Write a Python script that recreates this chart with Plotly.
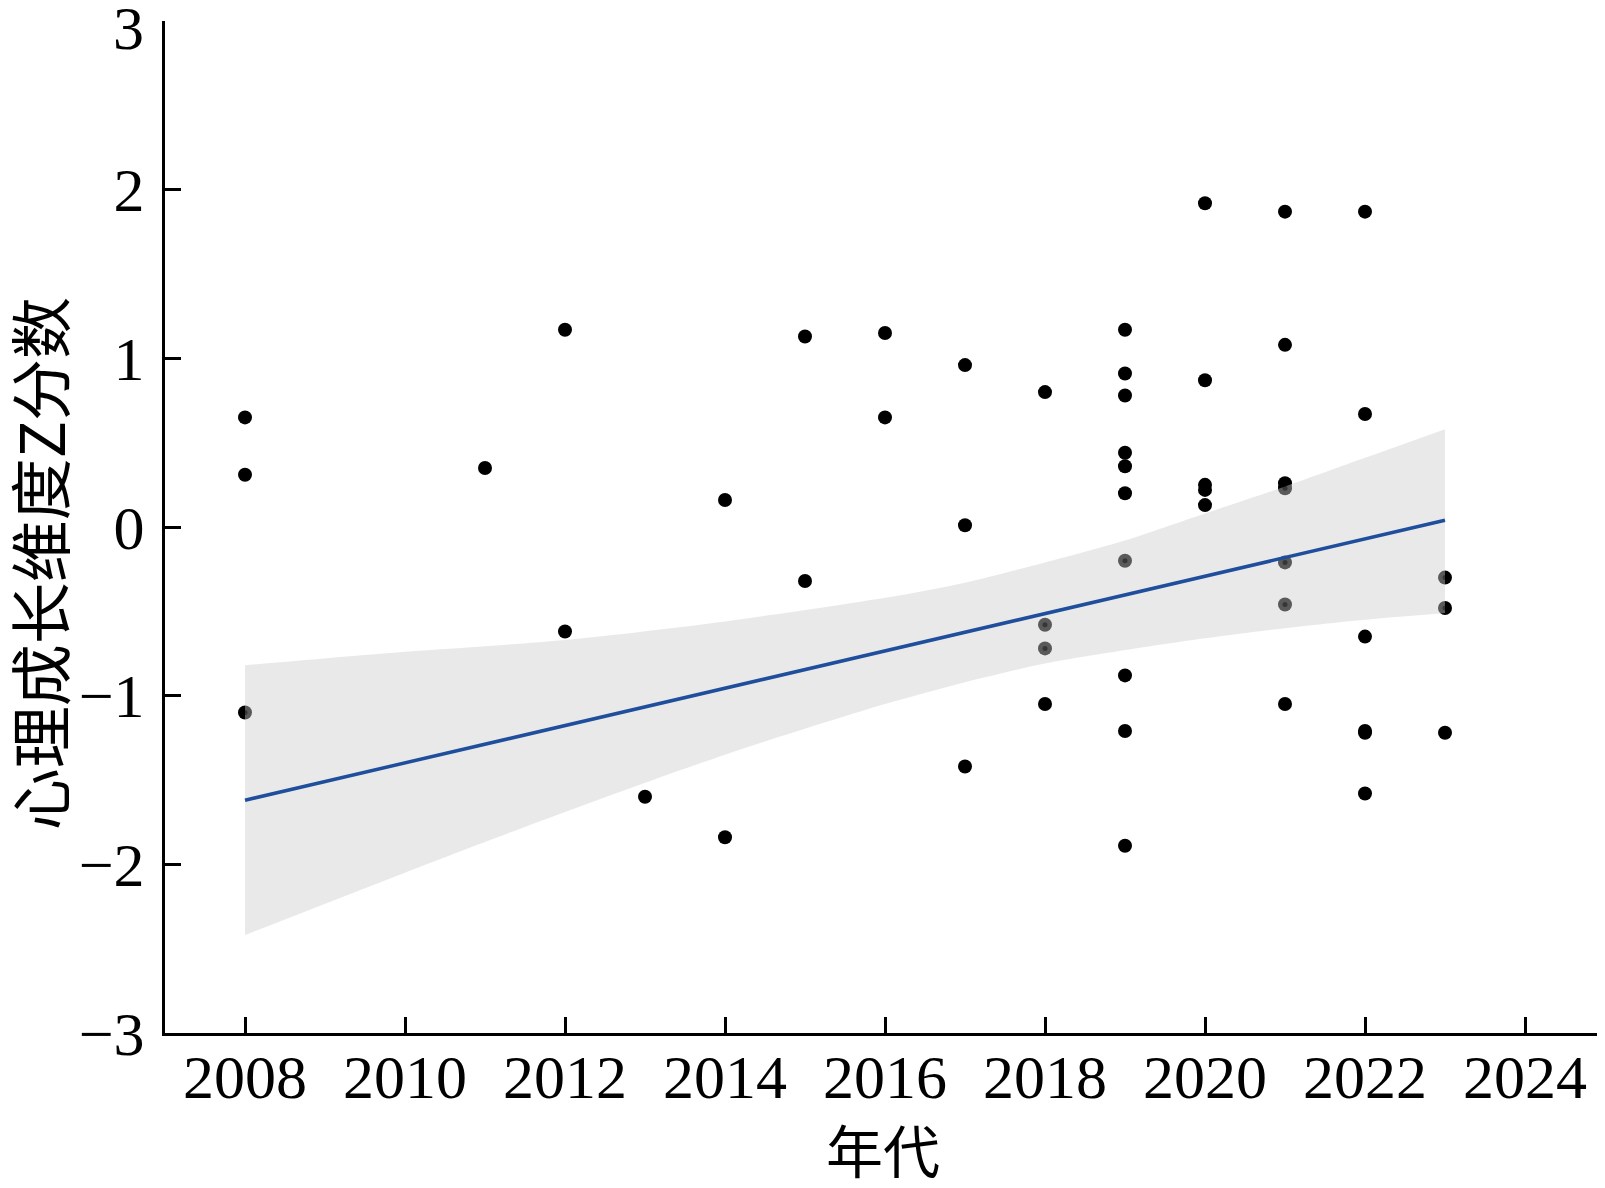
import plotly.graph_objects as go

# ---- data ----
years = [2008, 2008, 2008,
         2011,
         2012, 2012,
         2013,
         2014, 2014,
         2015, 2015,
         2016, 2016,
         2017, 2017, 2017,
         2018, 2018, 2018, 2018,
         2019, 2019, 2019, 2019, 2019, 2019, 2019, 2019, 2019, 2019,
         2020, 2020, 2020, 2020, 2020,
         2021, 2021, 2021, 2021, 2021, 2021, 2021,
         2022, 2022, 2022, 2022, 2022, 2022,
         2023, 2023, 2023]
zscores = [0.65, 0.31, -1.10,
           0.35,
           1.17, -0.62,
           -1.60,
           0.16, -1.84,
           1.13, -0.32,
           1.15, 0.65,
           0.96, 0.01, -1.42,
           0.80, -0.58, -0.72, -1.05,
           1.17, 0.91, 0.78, 0.44, 0.36, 0.20, -0.20, -0.88, -1.21, -1.89,
           1.92, 0.87, 0.25, 0.22, 0.13,
           1.87, 1.08, 0.26, 0.23, -0.21, -0.46, -1.05,
           1.87, 0.67, -0.65, -1.21, -1.22, -1.58,
           -0.30, -0.48, -1.22]

# fitted regression line (end points)
fit_x = [2008, 2023]
fit_y = [-1.62, 0.04]

# confidence band
band_x = [2008, 2010, 2012, 2014, 2016, 2017, 2018, 2019, 2020, 2021, 2022, 2023]
band_upper = [-0.82, -0.74, -0.67, -0.56, -0.42, -0.33, -0.21, -0.08, 0.08, 0.24, 0.41, 0.58]
band_lower = [-2.42, -2.05, -1.69, -1.35, -1.05, -0.92, -0.81, -0.73, -0.66, -0.60, -0.55, -0.51]

x_ticks = [2008, 2010, 2012, 2014, 2016, 2018, 2020, 2022, 2024]
y_ticks = [-3, -2, -1, 0, 1, 2, 3]

x_title = "年代"
y_title = "心理成长维度Z分数"

SERIF = "Liberation Serif, Times New Roman, serif"
CJK = "Noto Sans CJK SC"


def fmt(v):
    return ("\u2212" + str(-v)) if v < 0 else str(v)


fig = go.Figure()

fig.add_trace(go.Scatter(
    x=years, y=zscores, mode="markers",
    marker=dict(size=14, color="black", line=dict(width=0)),
    showlegend=False, hoverinfo="skip"))

fig.add_trace(go.Scatter(
    x=band_x, y=band_lower, mode="lines",
    line=dict(width=0, shape="spline", smoothing=0.8),
    showlegend=False, hoverinfo="skip"))
fig.add_trace(go.Scatter(
    x=band_x, y=band_upper, mode="lines", fill="tonexty",
    fillcolor="rgba(204,204,204,0.44)",
    line=dict(width=0, shape="spline", smoothing=0.8),
    showlegend=False, hoverinfo="skip"))

fig.add_trace(go.Scatter(
    x=years, y=zscores, mode="markers",
    marker=dict(size=5, color="rgba(0,0,0,0.4)", line=dict(width=0)),
    showlegend=False, hoverinfo="skip"))

fig.add_trace(go.Scatter(
    x=fit_x, y=fit_y, mode="lines",
    line=dict(color="#1f4e9c", width=3.5),
    showlegend=False, hoverinfo="skip"))

axis_common = dict(
    showgrid=False, zeroline=False, automargin=False,
    showline=True, linecolor="black", linewidth=3,
    ticks="inside", ticklen=16, tickwidth=3, tickcolor="black",
    ticklabeloverflow="allow",
    tickfont=dict(family=SERIF, size=62, color="black"),
)

fig.update_xaxes(range=[2007, 2025], tickvals=x_ticks,
                 ticktext=[str(v) for v in x_ticks],
                 ticklabelstandoff=-12, **axis_common)
# the top label is drawn as an annotation so that it is not clipped at the page edge
fig.update_yaxes(range=[-3.0005, 3.0005], tickvals=y_ticks,
                 ticktext=["" if v == max(y_ticks) else fmt(v) for v in y_ticks],
                 ticklabelstandoff=5, **axis_common)

fig.add_annotation(text=fmt(max(y_ticks)), xref="paper", yref="y",
                   x=0, y=max(y_ticks), xanchor="right", yanchor="middle",
                   xshift=-19, yshift=-7, showarrow=False,
                   font=dict(family=SERIF, size=62, color="black"))

fig.add_annotation(text=x_title, xref="paper", yref="paper",
                   x=0.4986, y=-0.1140, xanchor="center", yanchor="middle",
                   showarrow=False, font=dict(family=CJK, size=57, color="black"))
fig.add_annotation(text=y_title, xref="paper", yref="paper",
                   x=-0.0880, y=0.4634, xanchor="center", yanchor="middle",
                   textangle=-90, showarrow=False,
                   font=dict(family=CJK, size=62, color="black"))

fig.update_layout(
    width=1597, height=1180,
    margin=dict(l=157, r=0, t=13, b=155, pad=0),
    plot_bgcolor="white", paper_bgcolor="white",
    showlegend=False,
)

fig.write_html("out.html")
